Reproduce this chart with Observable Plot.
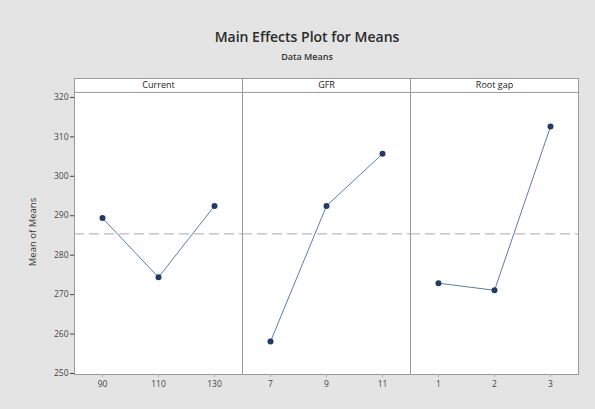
<!DOCTYPE html>
<html>
<head>
<meta charset="utf-8">
<script src="https://cdn.jsdelivr.net/npm/d3@7"></script>
<script src="https://cdn.jsdelivr.net/npm/@observablehq/plot@0.6"></script>
<style>
  html, body { margin: 0; padding: 0; }
  body { width: 595px; height: 409px; background: #e4e4e4; position: relative; overflow: hidden; font-family: "Open Sans", sans-serif; }
  #title { position: absolute; left: 0; width: 614px; top: 27px; text-align: center; font-size: 14px; font-weight: 600; color: #2a2a2a; line-height: 20px; }
  #subtitle { position: absolute; left: 0; width: 614px; top: 50px; text-align: center; font-size: 9px; font-weight: 600; color: #333; line-height: 14px; }
  #ylabel { position: absolute; left: 33px; top: 232px; transform: translate(-50%, -50%) rotate(-90deg); font-size: 9.5px; color: #333; white-space: nowrap; line-height: 12px; }
  #chart { position: absolute; left: 0; top: 0; }
</style>
</head>
<body>
<div id="chart"></div>
<div id="title">Main Effects Plot for Means</div>
<div id="subtitle">Data Means</div>
<div id="ylabel">Mean of Means</div>
<script>
const factors = ["Current", "GFR", "Root gap"];
const levelLabels = [["90", "110", "130"], ["7", "9", "11"], ["1", "2", "3"]];
const levelMeans = [[289.4, 274.4, 292.5], [258.1, 292.5, 305.7], [272.9, 271.1, 312.6]];
const grandMean = 285.4;
const yTicks = [250, 260, 270, 280, 290, 300, 310, 320];

const rows = [];
factors.forEach((f, i) => levelLabels[i].forEach((lab, j) => rows.push({factor: f, idx: j, level: lab, mean: levelMeans[i][j]})));

const yLow = 249.75, yTop = 324.8, headerBottom = 321.27;

const chart = Plot.plot({
  width: 595,
  height: 409,
  marginLeft: 73,
  marginRight: 16,
  marginTop: 78,
  marginBottom: 35,
  style: {background: "transparent", fontFamily: "Open Sans, sans-serif", fontSize: "8.5px", color: "#444"},
  fx: {domain: factors, padding: 0, axis: null},
  x: {domain: [-0.5, 2.5], axis: null},
  y: {domain: [yLow, yTop], ticks: yTicks, tickSize: 4, tickPadding: 2, label: null},
  marks: [
    Plot.frame({fill: "white", stroke: "#9a9a9a"}),
    Plot.ruleY([headerBottom], {stroke: "#9a9a9a"}),
    Plot.text(factors, {fx: d => d, x: 1, y: (headerBottom + yTop) / 2, text: d => d, fontSize: 9, fill: "#222"}),
    Plot.ruleY([grandMean], {stroke: "#a8a8a8", strokeDasharray: "10,5"}),
    Plot.ruleX(rows, {fx: "factor", x: "idx", y1: yLow, y2: yLow, insetBottom: -3, stroke: "#b0b0b0"}),
    Plot.text(rows, {fx: "factor", x: "idx", y: yLow, text: "level", dy: 10, fontSize: 8.5, fill: "#444"}),
    Plot.line(rows, {fx: "factor", x: "idx", y: "mean", stroke: "#5b7fa6", strokeWidth: 1}),
    Plot.dot(rows, {fx: "factor", x: "idx", y: "mean", r: 3, fill: "#1f3d63", stroke: "none"})
  ]
});
document.getElementById("chart").appendChild(chart);
</script>
</body>
</html>
